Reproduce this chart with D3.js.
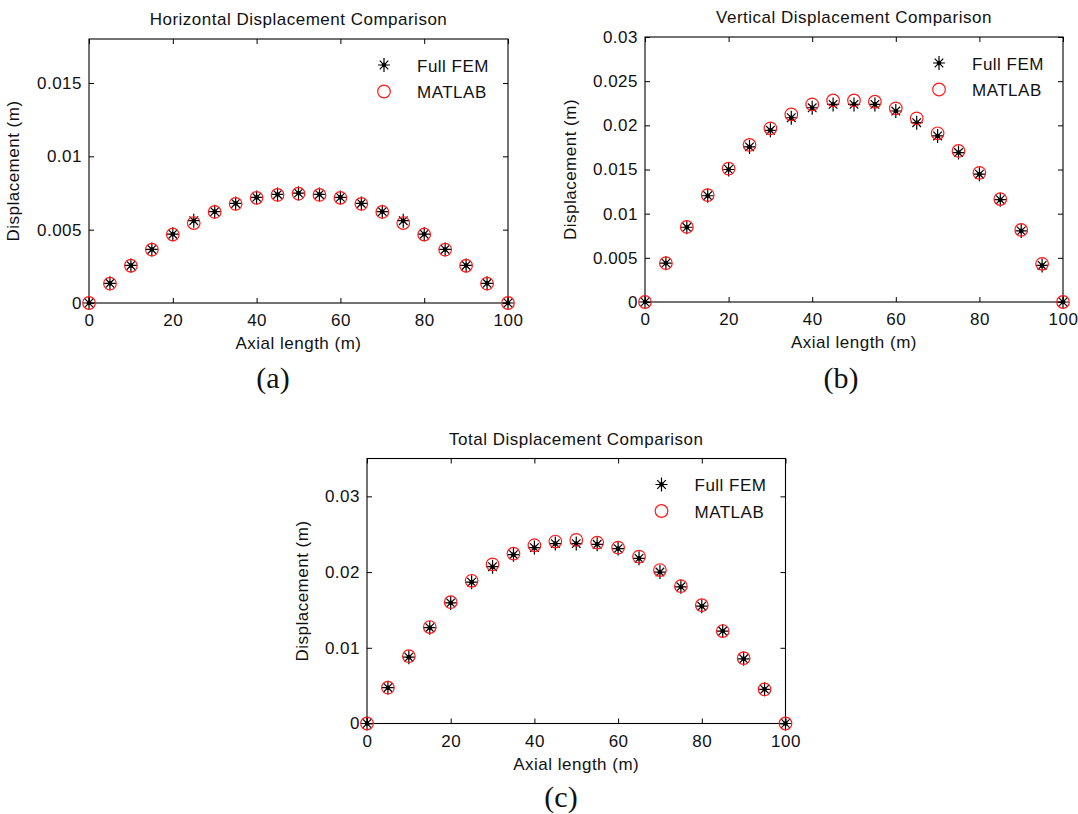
<!DOCTYPE html>
<html>
<head>
<meta charset="utf-8">
<script src="https://cdn.jsdelivr.net/npm/d3@7"></script>
<style>
  html, body { margin: 0; padding: 0; background: #fff; }
  svg { display: block; }
  text { font-family: "Liberation Sans", Arial, sans-serif; fill: #111; }
</style>
</head>
<body>
<svg id="fig" width="1078" height="814"></svg>
<script>
// Axial positions along the member (m)
const axialX = [0, 5, 10, 15, 20, 25, 30, 35, 40, 45, 50, 55, 60, 65, 70, 75, 80, 85, 90, 95, 100];

// Horizontal displacement (m)
const horizFEM = [0, 0.00134, 0.00256, 0.00365, 0.00469, 0.00561, 0.00623, 0.00679, 0.00720, 0.00740, 0.00749,
                  0.00740, 0.00720, 0.00679, 0.00623, 0.00561, 0.00469, 0.00365, 0.00256, 0.00134, 0];
const horizMATLAB = [0, 0.00132, 0.00254, 0.00364, 0.00467, 0.00545, 0.00621, 0.00676, 0.00717, 0.00737, 0.00745,
                     0.00737, 0.00717, 0.00676, 0.00621, 0.00545, 0.00467, 0.00364, 0.00254, 0.00132, 0];

// Vertical displacement (m)
const vertFEM = [0, 0.00440, 0.00846, 0.01203, 0.01500, 0.01756, 0.01944, 0.02086, 0.02199, 0.02237, 0.02237,
                 0.02237, 0.02162, 0.02030, 0.01880, 0.01692, 0.01447, 0.01158, 0.00805, 0.00414, 0];
const vertMATLAB = [0, 0.00440, 0.00850, 0.01210, 0.01510, 0.01778, 0.01966, 0.02124, 0.02237, 0.02282, 0.02282,
                    0.02267, 0.02192, 0.02079, 0.01910, 0.01710, 0.01462, 0.01165, 0.00816, 0.00432, 0];

// Total displacement (m)
const totalFEM = [0, 0.00473, 0.00876, 0.01265, 0.01593, 0.01867, 0.02071, 0.02230, 0.02323, 0.02376, 0.02376,
                  0.02367, 0.02310, 0.02181, 0.02000, 0.01805, 0.01549, 0.01221, 0.00854, 0.00451, 0];
const totalMATLAB = [0, 0.00473, 0.00889, 0.01274, 0.01602, 0.01885, 0.02102, 0.02243, 0.02354, 0.02403, 0.02425,
                     0.02389, 0.02323, 0.02204, 0.02027, 0.01814, 0.01562, 0.01221, 0.00863, 0.00451, 0];

// Axis ticks
const xTicks = [0, 20, 40, 60, 80, 100];
const xTickLabels = ["0", "20", "40", "60", "80", "100"];
const horizYTicks = [0, 0.005, 0.01, 0.015];
const horizYTickLabels = ["0", "0.005", "0.01", "0.015"];
const vertYTicks = [0, 0.005, 0.01, 0.015, 0.02, 0.025, 0.03];
const vertYTickLabels = ["0", "0.005", "0.01", "0.015", "0.02", "0.025", "0.03"];
const totalYTicks = [0, 0.01, 0.02, 0.03];
const totalYTickLabels = ["0", "0.01", "0.02", "0.03"];

// Text
const titles = ["Horizontal Displacement Comparison", "Vertical Displacement Comparison", "Total Displacement Comparison"];
const captions = ["(a)", "(b)", "(c)"];
const seriesNames = ["Full FEM", "MATLAB"];
const xLabel = "Axial length (m)";
const yLabel = "Displacement (m)";

// Panel layout
const panels = [
  { left: 89,  right: 508,   top: 39,    bottom: 303,   yMax: 0.018, fem: horizFEM, mat: horizMATLAB,
    yTicks: horizYTicks, yLabels: horizYTickLabels, title: titles[0], caption: captions[0],
    capX: 273, capY: 388, yLabOff: 70 },
  { left: 645, right: 1063,  top: 37,    bottom: 302,   yMax: 0.03,  fem: vertFEM, mat: vertMATLAB,
    yTicks: vertYTicks, yLabels: vertYTickLabels, title: titles[1], caption: captions[1],
    capX: 841, capY: 388, yLabOff: 69 },
  { left: 367, right: 785.5, top: 458.5, bottom: 723.5, yMax: 0.035, fem: totalFEM, mat: totalMATLAB,
    yTicks: totalYTicks, yLabels: totalYTickLabels, title: titles[2], caption: captions[2],
    capX: 561, capY: 807, yLabOff: 59 }
];

const svg = d3.select("#fig");
const fontSize = 17;
const letterSp = 0.5;
const tickLen = 5;

// MATLAB-style '*' marker: a plus overlaid with an x
const starPath = (() => {
  const v = 7, h = 6, d = 4.3;
  return `M${-h},0L${h},0M0,${-v}L0,${v}M${-d},${-d}L${d},${d}M${-d},${d}L${d},${-d}`;
})();

function drawStar(g, cx, cy) {
  const s = g.append("g").attr("transform", `translate(${cx},${cy})`);
  s.append("path").attr("d", starPath).attr("stroke", "#000").attr("stroke-width", 1.2).attr("fill", "none");
  s.append("circle").attr("r", 2.3).attr("fill", "#000");
}

function drawRing(g, cx, cy) {
  g.append("circle").attr("cx", cx).attr("cy", cy).attr("r", 6.3)
    .attr("fill", "none").attr("stroke", "#ff1a1a").attr("stroke-width", 1.2);
}

function styleAxis(sel) {
  sel.select(".domain").remove();
  sel.selectAll(".tick line").attr("stroke", "#000").attr("stroke-width", 1);
  sel.selectAll(".tick text")
    .style("font-size", fontSize + "px")
    .style("letter-spacing", letterSp + "px")
    .attr("fill", "#111");
}

panels.forEach(p => {
  const x = d3.scaleLinear().domain([0, 100]).range([p.left, p.right]);
  const y = d3.scaleLinear().domain([0, p.yMax]).range([p.bottom, p.top]);
  const g = svg.append("g");

  // Bottom axis with labels, ticks pointing inward
  const gxb = g.append("g").attr("transform", `translate(0,${p.bottom})`)
    .call(d3.axisBottom(x).tickValues(xTicks).tickFormat((d, i) => xTickLabels[i])
      .tickSizeInner(-tickLen).tickSizeOuter(0).tickPadding(11));
  styleAxis(gxb);

  // Top axis: ticks only
  const gxt = g.append("g").attr("transform", `translate(0,${p.top})`)
    .call(d3.axisTop(x).tickValues(xTicks).tickFormat("").tickSizeInner(-tickLen).tickSizeOuter(0));
  styleAxis(gxt);

  // Left axis with labels
  const gyl = g.append("g").attr("transform", `translate(${p.left},0)`)
    .call(d3.axisLeft(y).tickValues(p.yTicks).tickFormat((d, i) => p.yLabels[i])
      .tickSizeInner(-tickLen).tickSizeOuter(0).tickPadding(7));
  styleAxis(gyl);

  // Right axis: ticks only
  const gyr = g.append("g").attr("transform", `translate(${p.right},0)`)
    .call(d3.axisRight(y).tickValues(p.yTicks).tickFormat("").tickSizeInner(-tickLen).tickSizeOuter(0));
  styleAxis(gyr);

  // Plot box
  g.append("rect")
    .attr("x", p.left).attr("y", p.top)
    .attr("width", p.right - p.left).attr("height", p.bottom - p.top)
    .attr("fill", "none").attr("stroke", "#000").attr("stroke-width", 1.1);

  // Title
  g.append("text")
    .attr("x", (p.left + p.right) / 2).attr("y", p.top - 14)
    .attr("text-anchor", "middle")
    .style("font-size", fontSize + "px").style("letter-spacing", letterSp + "px")
    .text(p.title);

  // Axis labels
  g.append("text")
    .attr("x", (p.left + p.right) / 2).attr("y", p.bottom + 46)
    .attr("text-anchor", "middle")
    .style("font-size", fontSize + "px").style("letter-spacing", letterSp + "px")
    .text(xLabel);

  g.append("text")
    .attr("transform", `translate(${p.left - p.yLabOff},${(p.top + p.bottom) / 2}) rotate(-90)`)
    .attr("text-anchor", "middle")
    .style("font-size", fontSize + "px").style("letter-spacing", letterSp + "px")
    .text(yLabel);

  // Data markers: FEM stars, then MATLAB rings
  const marks = g.append("g");
  axialX.forEach((xv, i) => drawStar(marks, x(xv), y(p.fem[i])));
  axialX.forEach((xv, i) => drawRing(marks, x(xv), y(p.mat[i])));

  // Legend
  const lx = p.right - 124, tx = p.right - 91;
  const ly1 = p.top + 26, ly2 = p.top + 52.5;
  drawStar(g, lx, ly1);
  drawRing(g, lx, ly2);
  g.append("text").attr("x", tx).attr("y", ly1 + 6.5)
    .style("font-size", fontSize + "px").style("letter-spacing", letterSp + "px").text(seriesNames[0]);
  g.append("text").attr("x", tx).attr("y", ly2 + 6.5)
    .style("font-size", fontSize + "px").style("letter-spacing", letterSp + "px").text(seriesNames[1]);

  // Sub-figure caption
  svg.append("text")
    .attr("x", p.capX).attr("y", p.capY)
    .attr("text-anchor", "middle")
    .style("font-family", "'Liberation Serif', 'Times New Roman', serif")
    .style("font-size", "30px")
    .attr("fill", "#000")
    .text(p.caption);
});
</script>
</body>
</html>
